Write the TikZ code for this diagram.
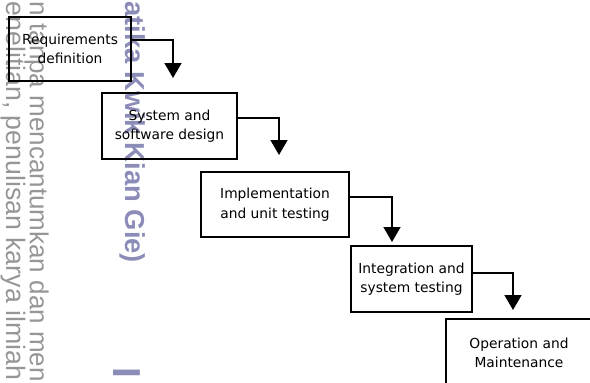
\documentclass[tikz,border=0pt]{standalone}
\usepackage{fontspec}
\setmainfont{DejaVu Sans}
\newfontfamily\wmfont{Liberation Sans}
\usetikzlibrary{arrows.meta,calc}
\definecolor{wmgray}{RGB}{150,150,150}
\definecolor{wmpurple}{RGB}{140,140,184}
\begin{document}
\begin{tikzpicture}[x=1pt,y=-1pt,
  stage/.style={draw, line width=1.8pt, align=center, inner sep=0pt,
    font=\fontsize{13.8}{19.5}\selectfont},
  flow/.style={line width=1.5pt, -{Triangle[width=17pt,length=15pt]}},
  wm/.style={rotate=-90, anchor=base west, inner sep=0pt, text=wmgray,
    font=\wmfont\fontsize{26}{26}\selectfont},
  wmb/.style={rotate=-90, anchor=base west, inner sep=0pt, text=wmpurple,
    font=\wmfont\bfseries\fontsize{27.4}{27.4}\selectfont}]
\useasboundingbox (0,0) rectangle (590,383);
\clip (0,0) rectangle (590,383);
% watermark
\node[wm] (wa) at (30,1.5) {n tanpa mencantumkan dan men};
\node[wm, font=\wmfont\fontsize{26.7}{26.7}\selectfont] (wb) at (6,1.5) {enelitian, penulisan karya ilmiah};
\node[wmb] (wc) at (125,1) {atika Kwik Kian Gie)};
\node[wmb, font=\wmfont\bfseries\fontsize{39}{39}\selectfont] (wd) at (113,367) {I};
% stages
\node[stage, minimum width=122pt, minimum height=64pt] (req) at (70,49) {Requirements\\definition};
\node[stage, minimum width=135pt, minimum height=66pt] (sys) at (169.5,126) {System and\\software design};
\node[stage, minimum width=148pt, minimum height=65pt] (imp) at (275,204.5) {Implementation\\and unit testing};
\node[stage, minimum width=121pt, minimum height=66pt] (int) at (411.5,279) {Integration and\\system testing};
\node[stage, minimum width=146pt, minimum height=68pt] (op) at (519,353) {Operation and\\Maintenance};
% arrow tips
\coordinate (t1) at (173,78);
\coordinate (t2) at (279,155);
\coordinate (t3) at (392,242);
\coordinate (t4) at (513,310);
\draw[flow] ([yshift=9pt]req.east) -| (t1);
\draw[flow] ([yshift=8pt]sys.east) -| (t2);
\draw[flow] ([yshift=7.5pt]imp.east) -| (t3);
\draw[flow] ([yshift=6pt]int.east) -| (t4);
\end{tikzpicture}
\end{document}
